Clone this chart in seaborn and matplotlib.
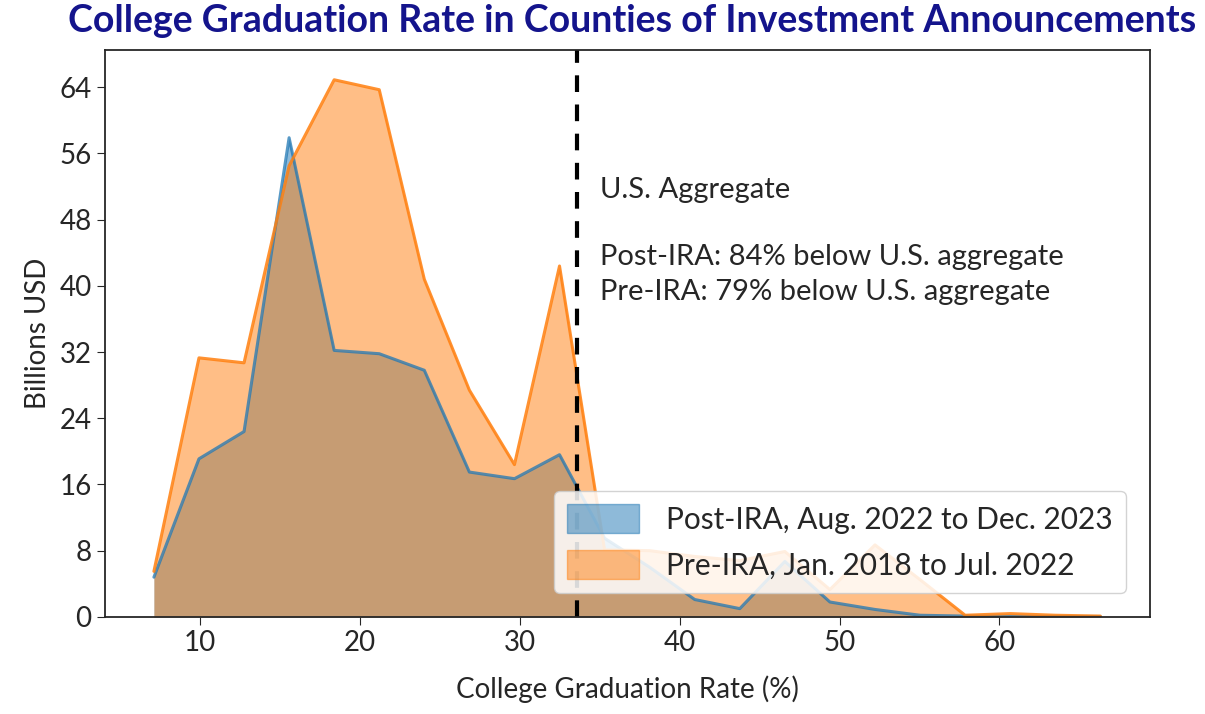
import matplotlib
matplotlib.use("Agg")
import matplotlib.pyplot as plt
from matplotlib.patches import Patch
import seaborn as sns
import pandas as pd

# bin centres of college graduation rate (%)
grad_rate = [7.1, 9.92, 12.74, 15.56, 18.38, 21.2, 24.02, 26.84, 29.66, 32.48, 35.3,
             38.12, 40.94, 43.76, 46.58, 49.4, 52.22, 55.04, 57.86, 60.68, 63.5, 66.32]
# investment, billions USD
post_ira = [4.8, 19.1, 22.4, 57.9, 32.2, 31.8, 29.8, 17.5, 16.7, 19.6, 9.5,
            6.0, 2.1, 1.0, 6.7, 1.8, 0.9, 0.2, 0.1, 0.05, 0.05, 0.05]
pre_ira = [5.5, 31.3, 30.7, 54.5, 64.9, 63.7, 40.8, 27.4, 18.4, 42.4, 8.1,
           8.0, 7.3, 6.8, 7.9, 3.3, 8.7, 4.5, 0.2, 0.4, 0.2, 0.1]
series_labels = ["Post-IRA, Aug. 2022 to Dec. 2023", "Pre-IRA, Jan. 2018 to Jul. 2022"]
us_aggregate = 33.6
note_lines = ["Post-IRA: 84% below U.S. aggregate", "Pre-IRA: 79% below U.S. aggregate"]

df = pd.DataFrame({"rate": grad_rate, "post": post_ira, "pre": pre_ira})

sns.set_style("ticks")
plt.rcParams["font.family"] = ["Lato", "DejaVu Sans"]

fig, ax = plt.subplots(figsize=(12.05, 7.14), dpi=100)
fig.subplots_adjust(left=0.087, right=0.954, bottom=0.136, top=0.930)

blue, orange = "#1f77b4", "#ff7f0e"

ax.fill_between(df["rate"], df["post"], color=blue, alpha=0.5, lw=0)
ax.fill_between(df["rate"], df["pre"], color=orange, alpha=0.5, lw=0)
sns.lineplot(data=df, x="rate", y="post", ax=ax, color=blue, alpha=0.75, lw=2.2)
sns.lineplot(data=df, x="rate", y="pre", ax=ax, color=orange, alpha=0.85, lw=2.2)

ax.axvline(us_aggregate, color="black", ls=(0, (4, 3)), lw=3)

fs = 20
ax.text(35.0, 51.6, "U.S. Aggregate", fontsize=21, va="center", ha="left")
ax.text(35.0, 43.5, note_lines[0], fontsize=21, va="center", ha="left")
ax.text(35.0, 39.3, note_lines[1], fontsize=21, va="center", ha="left")

ax.set_xlim(4.03, 69.4)
ax.set_ylim(0, 68.5)
ax.set_yticks(range(0, 65, 8))
ax.set_xticks(range(10, 61, 10))
ax.tick_params(labelsize=fs, length=6)
ax.set_xlabel("College Graduation Rate (%)", fontsize=fs, labelpad=14)
ax.set_ylabel("Billions USD", fontsize=fs, labelpad=6)
for s in ax.spines.values():
    s.set_visible(True)
    s.set_linewidth(1.3)

handles = [Patch(facecolor=blue, edgecolor=blue, alpha=0.5),
           Patch(facecolor=orange, edgecolor=orange, alpha=0.5)]
ax.legend(handles, series_labels, loc="lower right", fontsize=21.5,
          handlelength=2.4, handleheight=1.1, handletextpad=0.9,
          labelspacing=0.55, borderpad=0.45, borderaxespad=0.8,
          framealpha=0.85)

fig.suptitle("College Graduation Rate in Counties of Investment Announcements",
             fontsize=27, fontweight="bold", color="#14148c", x=0.525, y=0.995)

fig.savefig("out.png", dpi=100)
